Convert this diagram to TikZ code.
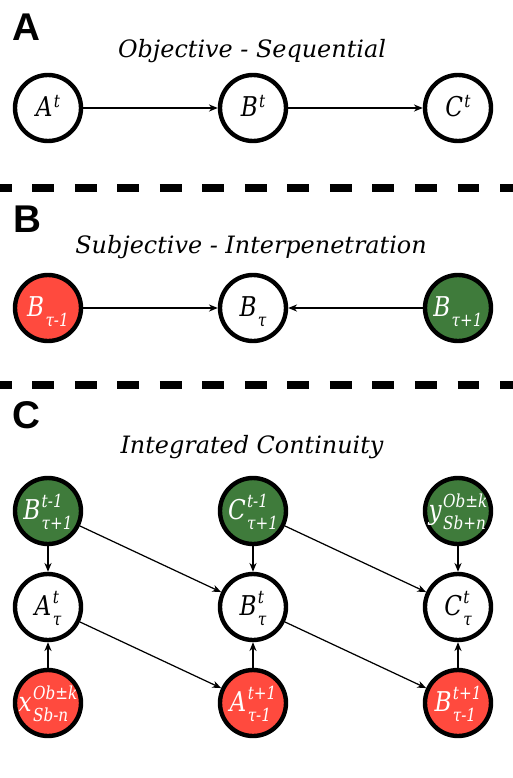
\documentclass[tikz,border=0pt]{standalone}
\usepackage{fontspec}
\setmainfont{DejaVu Serif}
\newfontfamily\nodefont{DejaVu Serif}[FakeStretch=0.85]
\newfontfamily\panelfont{Liberation Sans}
\usetikzlibrary{arrows.meta}
\definecolor{pastred}{HTML}{FF4A3E}
\definecolor{futgreen}{HTML}{3F7B3B}
\newcommand{\idxfont}{\fontsize{10.2}{13}\selectfont}
% letter with a stacked superscript and subscript
\newcommand{\tsc}[3]{#1\kern0.05em\raisebox{-5.7pt}{\idxfont\begin{tabular}[b]{@{}l@{}}#2\\#3\end{tabular}}}
\newcommand{\tup}[2]{#1\kern0.05em\raisebox{5.5pt}{\idxfont #2}}
\newcommand{\tdown}[2]{#1\kern0.05em\raisebox{-5.7pt}{\idxfont #2}}

\begin{document}
\begin{tikzpicture}[
    x=0.02cm, y=-0.02cm,
    every node/.style={font=\nodefont\fontsize{15.5}{15.5}\selectfont\itshape},
    state/.style={circle, draw, line width=2.5pt, minimum size=1.32cm,
                  inner sep=0pt, text height=10.2pt, text depth=0pt, fill=white},
    past/.style={state, fill=pastred, text=white},
    future/.style={state, fill=futgreen, text=white},
    arrow/.style={-{Stealth[length=5pt,width=4pt,inset=1.5pt]}, line width=0.7pt},
    sep/.style={line width=4.5pt, dash pattern=on 12.5pt off 11.7pt, dash phase=5.8pt},
    panel/.style={font=\panelfont\bfseries\fontsize{22}{22}\selectfont, anchor=base west, inner sep=0pt},
    title/.style={font=\normalfont\fontsize{13.6}{13.6}\selectfont\itshape, anchor=base, inner sep=0pt}
  ]
    \useasboundingbox (0,0) rectangle (513,778);

    % (A) objective
    \node[panel] (pa) at (12,40) {A};
    \node[title] (ta) at (252,57) {Objective - Sequential};
    \node[state] (a1) at (48,108) {\tup{A}{t}};
    \node[state] (b1) at (253,108) {\tup{B}{t}};
    \node[state] (c1) at (458,108) {\tup{C}{t}};
    \draw[arrow] (a1) -- (b1);
    \draw[arrow] (b1) -- (c1);

    \draw[sep] (0,188) -- (513,188);

    % (B) subjective
    \node[panel] (pb) at (13,232) {B};
    \node[title] (tb) at (251,253) {Subjective - Interpenetration};
    \node[past] (bprev) at (48,308) {\tdown{B}{τ-1}};
    \node[state] (bnow) at (253,308) {\tdown{B}{τ}};
    \node[future] (bnext) at (458,308) {\tdown{B}{τ+1}};
    \draw[arrow] (bprev) -- (bnow);
    \draw[arrow] (bnext) -- (bnow);

    \draw[sep] (0,385) -- (513,385);

    % (C) integrated
    \node[panel] (pc) at (12,428) {C};
    \node[title] (tc) at (252,453) {Integrated Continuity};

    \node[future] (bup) at (48,511) {\tsc{B}{t-1}{τ+1}};
    \node[future] (cup) at (253,511) {\tsc{C}{t-1}{τ+1}};
    \node[future] (yup) at (458,511) {\tsc{y}{Ob±k}{Sb+n}};

    \node[state] (amid) at (48,607) {\tsc{A}{t}{τ}};
    \node[state] (bmid) at (253,607) {\tsc{B}{t}{τ}};
    \node[state] (cmid) at (458,607) {\tsc{C}{t}{τ}};

    \node[past] (xlow) at (48,703) {\tsc{x}{Ob±k}{Sb-n}};
    \node[past] (alow) at (253,703) {\tsc{A}{t+1}{τ-1}};
    \node[past] (blow) at (458,703) {\tsc{B}{t+1}{τ-1}};

    \draw[arrow] (bup) -- (amid);
    \draw[arrow] (cup) -- (bmid);
    \draw[arrow] (yup) -- (cmid);
    \draw[arrow] (bup) -- (bmid);
    \draw[arrow] (cup) -- (cmid);
    \draw[arrow] (xlow) -- (amid);
    \draw[arrow] (alow) -- (bmid);
    \draw[arrow] (blow) -- (cmid);
    \draw[arrow] (amid) -- (alow);
    \draw[arrow] (bmid) -- (blow);
  \end{tikzpicture}
\end{document}
